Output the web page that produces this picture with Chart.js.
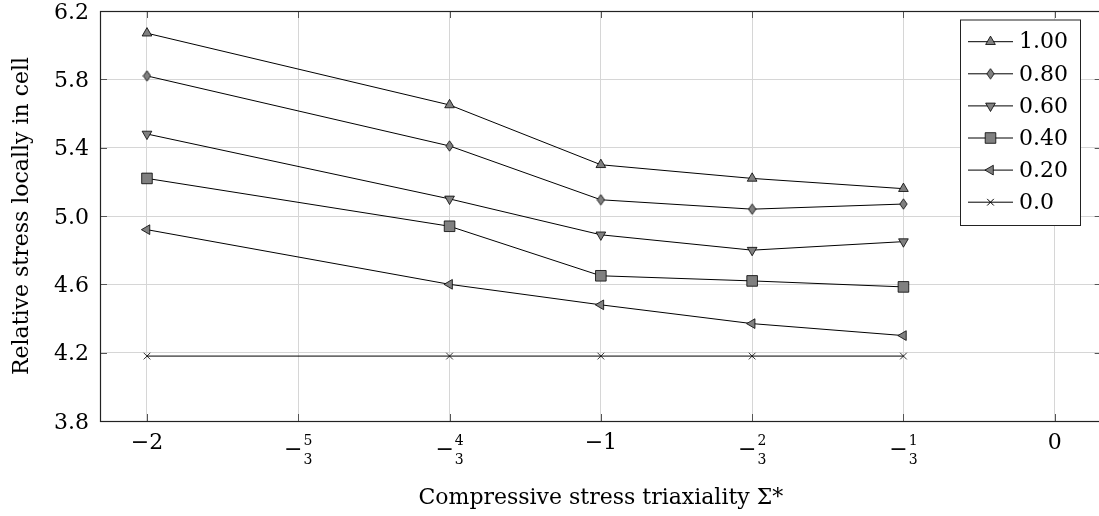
<!DOCTYPE html>
<html><head><meta charset="utf-8">
<script src="https://cdn.jsdelivr.net/npm/chart.js@4.4.1/dist/chart.umd.min.js"></script>
<style>
html,body{margin:0;padding:0;background:#fff;overflow:hidden;width:1099px;height:516px}
#wrap{width:1110px;height:516px}
canvas{display:block}
</style></head><body><div id="wrap"><canvas id="c" width="1110" height="516"></canvas></div>
<script>
// ---- data ----
const xValues = [-2, -4/3, -1, -2/3, -1/3];
const seriesLabels = ['1.00', '0.80', '0.60', '0.40', '0.20', '0.0'];
const s100 = [6.07, 5.65, 5.30, 5.22, 5.16];
const s080 = [5.82, 5.41, 5.095, 5.04, 5.07];
const s060 = [5.48, 5.10, 4.89, 4.80, 4.85];
const s040 = [5.22, 4.94, 4.65, 4.62, 4.585];
const s020 = [4.92, 4.60, 4.48, 4.37, 4.30];
const s000 = [4.18, 4.18, 4.18, 4.18, 4.18];
const yTickValues = [3.8, 4.2, 4.6, 5.0, 5.4, 5.8, 6.2];
const xTickValues = [-2, -5/3, -4/3, -1, -2/3, -1/3, 0];
const xTickLabels = ['−2', '−5/3', '−4/3', '−1', '−2/3', '−1/3', '0'];
const xTitle = 'Compressive stress triaxiality Σ*';
const yTitle = 'Relative stress locally in cell';

// ---- styles ----
const FONT = 'DejaVu Serif';
const FS = 22;
const FILL = '#808080';
const GRID = '#d6d6d6';

function makeDiamond() {
  const c = document.createElement('canvas');
  c.width = 9; c.height = 12;
  const g = c.getContext('2d');
  g.beginPath();
  g.moveTo(4.5, 0.8); g.lineTo(8.2, 6); g.lineTo(4.5, 11.2); g.lineTo(0.8, 6); g.closePath();
  g.fillStyle = FILL; g.fill();
  g.lineWidth = 0.8; g.strokeStyle = '#000'; g.stroke();
  return c;
}
const diamond = makeDiamond();
const markers = [
  {pointStyle: 'triangle', rotation: 0, radius: 5.6},
  {pointStyle: diamond, rotation: 0, radius: 5},
  {pointStyle: 'triangle', rotation: 180, radius: 5.6},
  {pointStyle: 'rect', rotation: 0, radius: 7.5},
  {pointStyle: 'triangle', rotation: 270, radius: 5.6},
  {pointStyle: 'crossRot', rotation: 0, radius: 4.7}
];
const seriesValues = [s100, s080, s060, s040, s020, s000];

const datasets = seriesValues.map((vals, i) => ({
  label: seriesLabels[i],
  data: xValues.map((x, j) => ({x: x, y: vals[j]})),
  borderColor: '#000',
  borderWidth: 1,
  pointStyle: markers[i].pointStyle,
  rotation: markers[i].rotation,
  pointRadius: markers[i].radius,
  pointBackgroundColor: FILL,
  pointBorderColor: '#000',
  pointBorderWidth: 0.8,
  pointHoverRadius: markers[i].radius,
  tension: 0,
  fill: false
}));

function drawMarker(ctx, m, x, y) {
  ctx.save();
  ctx.fillStyle = FILL; ctx.strokeStyle = '#000'; ctx.lineWidth = 0.8;
  const r = m.radius;
  if (m.pointStyle instanceof HTMLCanvasElement) {
    ctx.drawImage(m.pointStyle, x - m.pointStyle.width / 2, y - m.pointStyle.height / 2);
  } else if (m.pointStyle === 'triangle') {
    let rad = m.rotation * Math.PI / 180;
    ctx.beginPath();
    for (let k = 0; k < 3; k++) {
      const px = x + Math.sin(rad) * r, py = y - Math.cos(rad) * r;
      if (k === 0) ctx.moveTo(px, py); else ctx.lineTo(px, py);
      rad += 2 * Math.PI / 3;
    }
    ctx.closePath(); ctx.fill(); ctx.stroke();
  } else if (m.pointStyle === 'rect') {
    const s = Math.SQRT1_2 * r;
    ctx.beginPath(); ctx.rect(x - s, y - s, 2 * s, 2 * s); ctx.fill(); ctx.stroke();
  } else if (m.pointStyle === 'crossRot') {
    const s = Math.SQRT1_2 * r;
    ctx.lineWidth = 1;
    ctx.beginPath();
    ctx.moveTo(x - s, y - s); ctx.lineTo(x + s, y + s);
    ctx.moveTo(x - s, y + s); ctx.lineTo(x + s, y - s);
    ctx.stroke();
  }
  ctx.restore();
}

const decor = {
  id: 'decor',
  afterDraw(chart) {
    const ctx = chart.ctx;
    const a = chart.chartArea;
    const xs = chart.scales.x, ys = chart.scales.y;
    ctx.save();
    // tick marks (inward on all sides)
    ctx.strokeStyle = '#555'; ctx.lineWidth = 1;
    ctx.beginPath();
    xTickValues.forEach(v => {
      const px = Math.round(xs.getPixelForValue(v)) + 0.5;
      ctx.moveTo(px, a.bottom); ctx.lineTo(px, a.bottom - 7);
      ctx.moveTo(px, a.top); ctx.lineTo(px, a.top + 7);
    });
    yTickValues.forEach(v => {
      const py = Math.round(ys.getPixelForValue(v)) + 0.5;
      ctx.moveTo(a.left, py); ctx.lineTo(a.left + 7, py);
      ctx.moveTo(a.right, py); ctx.lineTo(a.right - 7, py);
    });
    ctx.stroke();
    // frame
    ctx.strokeStyle = '#222'; ctx.lineWidth = 1.2;
    ctx.strokeRect(Math.round(a.left) + 0.5, Math.round(a.top) + 0.5,
                   Math.round(a.right - a.left), Math.round(a.bottom - a.top));
    // x tick labels (with stacked fractions)
    ctx.fillStyle = '#000';
    const big = FS + 'px "' + FONT + '"';
    const small = '14px "' + FONT + '"';
    xTickValues.forEach((v, i) => {
      const px = xs.getPixelForValue(v);
      const lab = xTickLabels[i];
      if (lab.indexOf('/') < 0) {
        ctx.font = big;
        ctx.textAlign = 'center'; ctx.textBaseline = 'alphabetic';
        ctx.fillText(lab, px, 449);
      } else {
        const sign = lab[0];
        const parts = lab.slice(1).split('/');
        ctx.font = big;
        const mw = ctx.measureText(sign).width;
        ctx.font = small;
        const dw = Math.max(ctx.measureText(parts[0]).width, ctx.measureText(parts[1]).width);
        const total = mw + 1 + dw;
        const x0 = px - total / 2;
        ctx.font = big;
        ctx.textAlign = 'left'; ctx.textBaseline = 'alphabetic';
        ctx.fillText(sign, x0, 456);
        ctx.font = small;
        ctx.textAlign = 'center';
        const cx = x0 + mw + 1 + dw / 2;
        ctx.fillText(parts[0], cx, 445);
        ctx.fillText(parts[1], cx, 464);
      }
    });
    // legend
    const lx = 960, ly = 19.5, lw = 120, lh = 205.5;
    ctx.fillStyle = '#fff';
    ctx.fillRect(lx, ly, lw, lh);
    ctx.strokeStyle = '#222'; ctx.lineWidth = 1;
    ctx.strokeRect(lx + 0.5, ly + 0.5, lw, lh);
    chart.data.datasets.forEach((ds, i) => {
      const y = 41.7 + i * 32.1;
      ctx.strokeStyle = '#000'; ctx.lineWidth = 1;
      ctx.beginPath(); ctx.moveTo(968, y); ctx.lineTo(1013, y); ctx.stroke();
      drawMarker(ctx, markers[i], 990.5, y);
      ctx.fillStyle = '#000';
      ctx.font = big;
      ctx.textAlign = 'left'; ctx.textBaseline = 'middle';
      ctx.fillText(ds.label, 1019, y + 1);
    });
    ctx.restore();
  }
};

new Chart(document.getElementById('c'), {
  type: 'line',
  data: {datasets: datasets},
  options: {
    responsive: false,
    animation: false,
    devicePixelRatio: 1,
    layout: {padding: {left: 0, right: 8, top: 11, bottom: 0}},
    plugins: {legend: {display: false}, tooltip: {enabled: false}},
    scales: {
      x: {
        type: 'linear', min: -2.1035, max: 0.1035,
        afterBuildTicks: s => { s.ticks = xTickValues.map(v => ({value: v})); },
        afterFit: s => { s.height = 95; s.paddingLeft = 0; s.paddingRight = 0; },
        grid: {color: GRID, lineWidth: 1, drawTicks: false},
        border: {display: false},
        ticks: {display: false},
        title: {display: true, text: xTitle, color: '#000',
                font: {family: FONT, size: FS}, padding: {top: 0, bottom: 5}}
      },
      y: {
        type: 'linear', min: 3.8, max: 6.2,
        afterBuildTicks: s => { s.ticks = yTickValues.map(v => ({value: v})); },
        afterFit: s => { s.width = 100; s.paddingTop = 0; s.paddingBottom = 0; },
        grid: {color: GRID, lineWidth: 1, drawTicks: false},
        border: {display: false},
        ticks: {color: '#000', padding: 11, labelOffset: 2, font: {family: FONT, size: FS},
                callback: v => Number(v).toFixed(1)},
        title: {display: true, text: yTitle, color: '#000',
                font: {family: FONT, size: FS}, padding: {top: 9, bottom: 0}}
      }
    }
  },
  plugins: [decor]
});
</script>
</body></html>
